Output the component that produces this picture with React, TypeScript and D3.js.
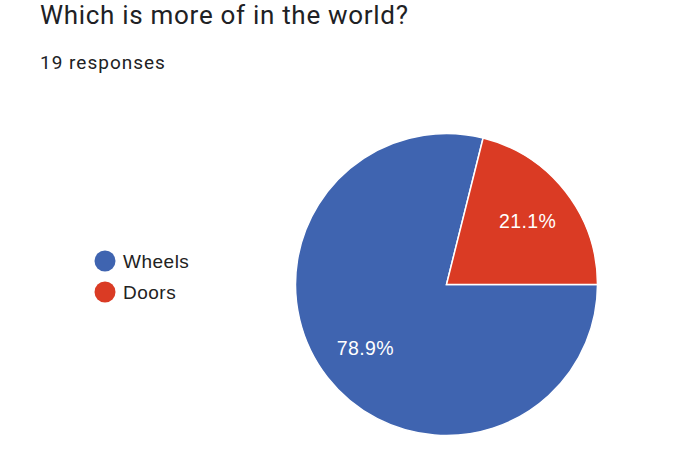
import { useRef, useEffect } from "react";
import * as d3 from "d3";

const categories = ["Wheels", "Doors"];
const shares = [78.9, 21.1];
const colors = ["#3f64b0", "#da3b24"];
const title = "Which is more of in the world?";
const subtitle = "19 responses";

const W = 690;
const H = 450;

export default function App() {
  const svgRef = useRef<SVGSVGElement>(null);

  useEffect(() => {
    drawChart();
  }, []);

  function drawChart() {
    if (!svgRef.current) return;
    const svg = d3.select(svgRef.current);
    svg.selectAll("*").remove();

    svg
      .append("text")
      .attr("x", 40)
      .attr("y", 24)
      .attr("font-family", "Roboto, sans-serif")
      .attr("font-size", 26)
      .attr("letter-spacing", 0.7)
      .attr("fill", "#202124")
      .text(title);

    svg
      .append("text")
      .attr("x", 40)
      .attr("y", 69)
      .attr("font-family", "Roboto, sans-serif")
      .attr("font-size", 19)
      .attr("letter-spacing", 1)
      .attr("fill", "#202124")
      .text(subtitle);

    const data = categories.map((c, i) => ({ category: c, amount: shares[i], color: colors[i] }));

    // legend
    const legend = svg
      .selectAll("g.legend")
      .data(data)
      .enter()
      .append("g")
      .attr("class", "legend")
      .attr("transform", (_, i) => `translate(105, ${261 + i * 31})`);
    legend.append("circle").attr("r", 10.5).attr("fill", (d) => d.color);
    legend
      .append("text")
      .attr("x", 18)
      .attr("y", 7)
      .attr("font-family", "'Liberation Sans', Arial, sans-serif")
      .attr("font-size", 19)
      .attr("letter-spacing", 0.5)
      .attr("fill", "#222")
      .text((d) => d.category);

    // pie, clockwise from 3 o'clock
    const radius = 151;
    const pie = d3
      .pie<{ category: string; amount: number; color: string }>()
      .value((d) => d.amount)
      .sort(null)
      .startAngle(Math.PI / 2)
      .endAngle(Math.PI / 2 + 2 * Math.PI);

    const arc = d3.arc<any>().innerRadius(0).outerRadius(radius);
    const labelArc = d3.arc<any>().innerRadius(103).outerRadius(103);

    const g = svg.append("g").attr("transform", `translate(446.5, 284.5)`);
    const arcs = pie(data);

    g.selectAll("path")
      .data(arcs)
      .enter()
      .append("path")
      .attr("fill", (d) => d.data.color)
      .attr("stroke", "#fff")
      .attr("stroke-width", 1.5)
      .attr("d", arc);

    g.selectAll("text")
      .data(arcs)
      .enter()
      .append("text")
      .attr("transform", (d) => `translate(${labelArc.centroid(d)})`)
      .attr("text-anchor", "middle")
      .attr("dy", "0.35em")
      .attr("font-family", "'Liberation Sans', Arial, sans-serif")
      .attr("font-size", 19.5)
      .attr("letter-spacing", 0.4)
      .attr("fill", "#fff")
      .text((d) => `${d.data.amount.toFixed(1)}%`);
  }

  return (
    <svg
      ref={svgRef}
      width={W}
      height={H}
      style={{ position: "absolute", left: 0, top: 0, background: "#fff" }}
    />
  );
}
